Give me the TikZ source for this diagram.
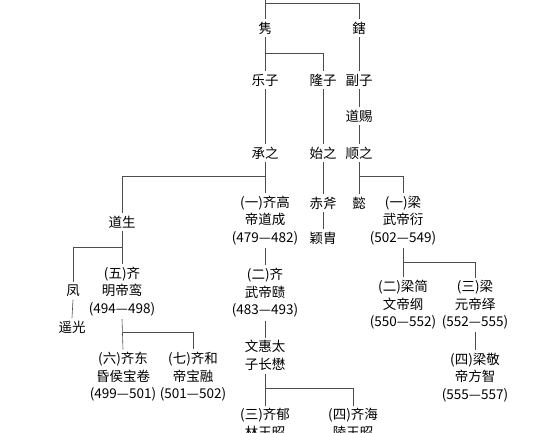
\documentclass[tikz,border=0pt]{standalone}
\usepackage{fontspec}
\setmainfont{Noto Sans CJK SC}
\usetikzlibrary{positioning}

\begin{document}
\begin{tikzpicture}[x=1pt,y=-1pt,
    every node/.style={font=\fontsize{13.5}{17.5}\selectfont,align=center,
        inner sep=1pt,outer sep=2pt,text=black},
    link/.style={draw=black!70,line width=0.6pt}]
    \useasboundingbox (0,0) rectangle (554,432);
    % generations
    \node (jun) at (265,28) {隽};
    \node (xia) at (359,28) {鎋};
    \node (lezi) at (265,80) {乐子};
    \node (longzi) at (323,80) {隆子};
    \node (fuzi) at (359,80) {副子};
    \node (daoci) at (359,116) {道赐};
    \node (chengzhi) at (265,153) {承之};
    \node (shizhi) at (323,153) {始之};
    \node (shunzhi) at (359,153) {顺之};
    \node (daosheng) at (122,222) {道生};
    \node (qigao) at (265,220.5) {(一)齐高\\帝道成\\(479—482)};
    \node (chifu) at (323,203) {赤斧};
    \node (yingzhou) at (323,238) {颖胄};
    \node (yi) at (359,203) {懿};
    \node (liangwu) at (403,220.5) {(一)梁\\武帝衍\\(502—549)};
    \node (feng) at (73,291) {凤};
    \node (yaoguang) at (72,327) {遥光};
    \node (qiming) at (122,291.5) {(五)齐\\明帝鸾\\(494—498)};
    \node (qiwu) at (265,293) {(二)齐\\武帝赜\\(483—493)};
    \node (wenhui) at (265,355.5) {文惠太\\子长懋};
    \node (liangjian) at (403,305) {(二)梁简\\文帝纲\\(550—552)};
    \node (liangyuan) at (475,305) {(三)梁\\元帝绎\\(552—555)};
    \node (liangjing) at (475,377.5) {(四)梁敬\\帝方智\\(555—557)};
    \node (qidong) at (123,377) {(六)齐东\\昏侯宝卷\\(499—501)};
    \node (qihe) at (193,377) {(七)齐和\\帝宝融\\(501—502)};
    \node (qiyu) at (265,423.5) {(三)齐郁\\林王昭};
    \node (qihai) at (353,423.5) {(四)齐海\\陵王昭};
    % branch points
    \coordinate (top) at (265,0);
    \coordinate (bar1) at (265,3);
    \coordinate (bar2) at (265,53);
    \coordinate (bar3) at (265,176);
    \coordinate (bar4) at (359,176);
    \coordinate (bar5) at (122,247);
    \coordinate (bar6) at (403,262);
    \coordinate (bar7) at (123,332);
    \coordinate (bar8) at (265,388);
    % lines
    \draw[link] (top) -- (jun.north);
    \draw[link] (bar1) -| (xia.north);
    \draw[link] (jun.south) -- (lezi.north);
    \draw[link] (bar2) -| (longzi.north);
    \draw[link] (xia.south) -- (fuzi.north);
    \draw[link] (lezi.south) -- (chengzhi.north);
    \draw[link] (longzi.south) -- (shizhi.north);
    \draw[link] (fuzi.south) -- (daoci.north);
    \draw[link] (daoci.south) -- (shunzhi.north);
    \draw[link] (chengzhi.south) -- (qigao.north);
    \draw[link] (bar3) -| (daosheng.north);
    \draw[link] (shizhi.south) -- (chifu.north);
    \draw[link] (chifu.south) -- (yingzhou.north);
    \draw[link] (shunzhi.south) -- (yi.north);
    \draw[link] (bar4) -| (liangwu.north);
    \draw[link] (daosheng.south) -- (qiming.north);
    \draw[link] (bar5) -| (feng.north);
    \draw[link] (feng.south) -- (yaoguang.north);
    \draw[link] (qigao.south) -- (qiwu.north);
    \draw[link] (qiwu.south) -- (wenhui.north);
    \draw[link] (wenhui.south) -- (qiyu.north);
    \draw[link] (bar8) -| (qihai.north);
    \draw[link] (liangwu.south) -- (liangjian.north);
    \draw[link] (bar6) -| (liangyuan.north);
    \draw[link] (liangyuan.south) -- (liangjing.north);
    \draw[link] (qiming.south) -- (qidong.north);
    \draw[link] (bar7) -| (qihe.north);
\end{tikzpicture}
\end{document}
